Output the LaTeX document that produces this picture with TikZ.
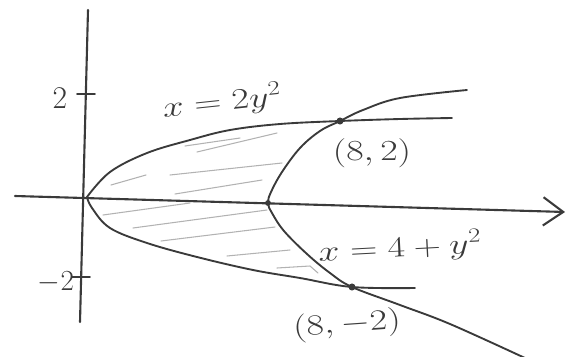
\documentclass[tikz,border=0pt]{standalone}
\usepackage{graphicx}
\usetikzlibrary{arrows.meta}
\definecolor{pencil}{HTML}{3A3A3A}
\tikzset{
    axis/.style={line width=1.8pt, pencil, line cap=round},
    curve/.style={line width=1.6pt, pencil, line cap=round, smooth, tension=0.6},
    hatch/.style={line width=0.9pt, gray!60, line cap=round},
    pt/.style={circle, fill=pencil, inner sep=0pt, minimum size=6pt},
    lbl/.style={text=pencil, font=\fontsize{27}{30}\selectfont, inner sep=0pt}
}

\begin{document}
\begin{tikzpicture}[x=0.03cm, y=-0.03cm]
\useasboundingbox (0,0) rectangle (576,356);
\clip (0,0) rectangle (576,356);

% Points
\coordinate (O) at (87,197);
\coordinate (V) at (268,203);
\coordinate (P) at (340,121);
\coordinate (Q) at (352,287);
\coordinate (xl) at (15,196);
\coordinate (xr) at (565,212);
\coordinate (yt) at (88,10);
\coordinate (yb) at (80,322);

% Shading
\draw[hatch] (111,185) -- (146,175);
\draw[hatch] (170,175) -- (282,163);
\draw[hatch] (185,146) -- (240,138);
\draw[hatch] (197,152) -- (277,133);
\draw[hatch] (175,194) -- (262,180);
\draw[hatch] (103,215) -- (190,203);
\draw[hatch] (133,228) -- (267,210);
\draw[hatch] (161,241) -- (275,227);
\draw[hatch] (227,256) -- (290,250);
\draw[hatch] (277,268) -- (310,266) -- (318,273);

% Axes
\draw[axis, -{Straight Barb[length=0.6cm, width=0.85cm]}] (xl) -- (xr);
\draw[axis] (yt) -- (yb);
\draw[axis, line width=1.3pt] (77,94) -- (95,94);
\draw[axis, line width=1.3pt] (72,277) -- (90,277);

% Curves
\draw[curve] plot coordinates {(O) (110,172) (147,153) (190,140) (230,130) (280,124) (P) (400,119) (452,118)};
\draw[curve] plot coordinates {(O) (92,208) (110,228) (147,243) (197,257) (253,270) (300,278) (Q) (415,288)};
\draw[curve] plot coordinates {(467,90) (400,98) (363,110) (P) (320,131) (300,148) (282,172) (271,192) (V) (272,213) (284,231) (307,254) (330,273) (Q) (400,305) (450,324) (525,358)};

\node[pt] at (P) {};
\node[pt] at (Q) {};
\node[pt, minimum size=5pt] at (V) {};

% Labels
\node[lbl] (ytwo) at (60,98) {2};
\node[lbl] (ymtwo) at (56,282) {$-2$};
\node[lbl, rotate=6] (lblA) at (222,102) {\scalebox{1.3}[1]{$x=2y^2$}};
\node[lbl] (lblP) at (372,153) {\scalebox{1.3}[1]{$(8,2)$}};
\node[lbl, rotate=3] (lblB) at (400,248) {\scalebox{1.3}[1]{$x=4+y^2$}};
\node[lbl, rotate=4] (lblQ) at (347,325) {\scalebox{1.3}[1]{$(8,-2)$}};
\end{tikzpicture}
\end{document}
